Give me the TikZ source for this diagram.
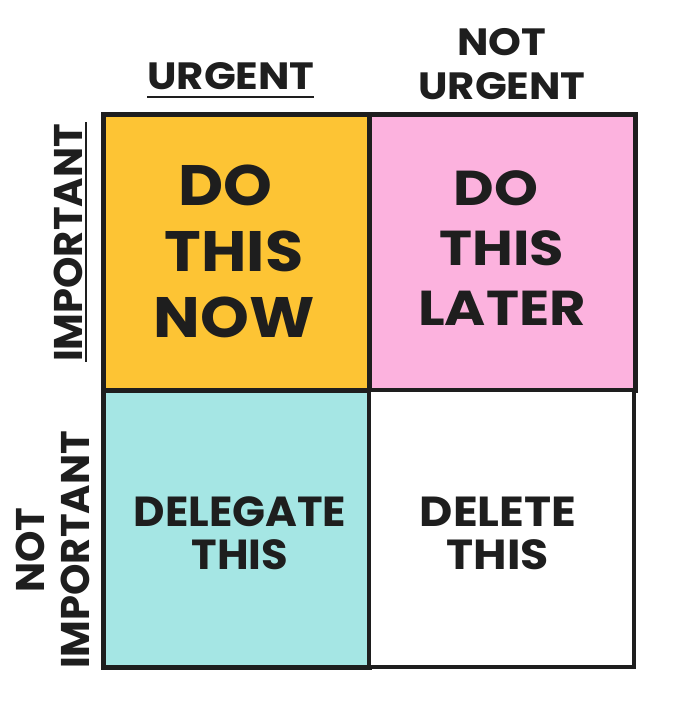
\documentclass[tikz,border=0pt]{standalone}
\usepackage{fontspec}
\setmainfont{Poppins}[BoldFont={* Bold}]
\definecolor{ink}{HTML}{1E1E1E}
\definecolor{qorange}{HTML}{FDC434}
\definecolor{qpink}{HTML}{FCB2DE}
\definecolor{qcyan}{HTML}{A5E6E4}
\newcommand{\wideby}[1]{\addfontfeature{FakeStretch=#1}}
\begin{document}
\begin{tikzpicture}[x=1pt,y=-1pt,
  quad/.style={draw=ink,line width=5pt},
  lbl/.style={text=ink,inner sep=0pt,align=center,font=\bfseries},
]
\useasboundingbox (0,0) rectangle (696,702);
\fill[white] (0,0) rectangle (696,702);
% quadrants
\draw[quad,fill=qorange] (103,114) rectangle (369,390);
\draw[quad,fill=qpink] (369,114) rectangle (635,390);
\draw[quad,fill=qcyan] (103,390) rectangle (369,667);
\draw[draw=ink,line width=4pt,fill=white] (369,390) rectangle (634,667);
% quadrant texts
\node[lbl,font=\bfseries\fontsize{57}{66}\selectfont\wideby{1.09}] (q1) at (234,251) {DO\rule{18pt}{0pt}\\THIS\\NOW};
\node[lbl,font=\bfseries\fontsize{49}{60}\selectfont\wideby{1.14}] (q2) at (502,248) {DO\rule{12pt}{0pt}\\THIS\\LATER};
\node[lbl,font=\bfseries\fontsize{42}{43}\selectfont\wideby{1.03}] (q3) at (240,533) {DELEGATE\\THIS};
\node[lbl,font=\bfseries\fontsize{42}{43}\selectfont\wideby{1.09}] (q4) at (498,533) {DELETE\\THIS};
% headers
\node[lbl,font=\bfseries\fontsize{38}{44}\selectfont\wideby{1.1}] (h1) at (231,76) {URGENT};
\node[lbl,font=\bfseries\fontsize{38}{44}\selectfont\wideby{1.1}] (h2) at (502,64.5) {NOT\\URGENT};
\draw[ink,line width=2pt] (147,97) -- (314,97);
\node[lbl,font=\bfseries\fontsize{40}{45}\selectfont,rotate=90] (v1) at (68,243) {IMPORTANT};
\node[lbl,font=\bfseries\fontsize{40}{45}\selectfont,rotate=90] (v2) at (52.5,550) {NOT\\IMPORTANT};
\draw[ink,line width=2pt] (86,122) -- (86,362);
\end{tikzpicture}
\end{document}
